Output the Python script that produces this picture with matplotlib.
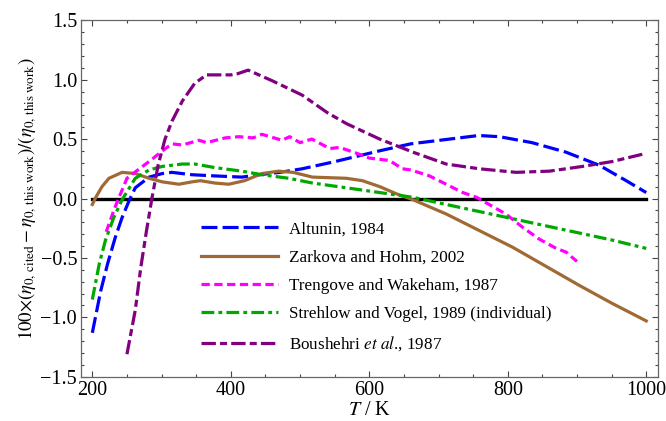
import numpy as np
import matplotlib.pyplot as plt

plt.rcParams['font.family'] = ['Liberation Serif', 'DejaVu Serif']
plt.rcParams['mathtext.fontset'] = 'stix'

# values (T in K, deviation in %)
T_alt = [200, 212, 222, 233, 243, 253, 262, 282, 301, 315, 344, 377, 416, 455, 471,
         503, 550, 614, 660, 716, 758, 788, 835, 884, 932, 971, 1000]
d_alt = [-1.13, -0.78, -0.55, -0.33, -0.16, -0.02, 0.09, 0.18, 0.21, 0.22, 0.20, 0.19,
         0.18, 0.21, 0.22, 0.25, 0.31, 0.40, 0.46, 0.50, 0.53, 0.52, 0.47, 0.39, 0.28,
         0.15, 0.05]

T_zar = [200, 205, 214, 224, 243, 262, 282, 301, 325, 344, 356, 377, 397, 420, 445,
         469, 490, 518, 567, 590, 615, 639, 663, 711, 759, 807, 855, 903, 950, 1000]
d_zar = [-0.05, 0.01, 0.10, 0.17, 0.22, 0.21, 0.17, 0.14, 0.12, 0.14, 0.15, 0.13, 0.12,
         0.15, 0.21, 0.23, 0.22, 0.18, 0.17, 0.15, 0.10, 0.04, -0.01, -0.13, -0.27,
         -0.41, -0.57, -0.73, -0.88, -1.03]

T_tre = [220, 233, 250, 268, 284, 301, 315, 330, 354, 365, 392, 412, 432, 445, 474,
         485, 500, 517, 543, 557, 582, 600, 629, 648, 660, 687, 711, 735, 755, 773,
         797, 821, 845, 870, 884, 900]
d_tre = [-0.28, -0.07, 0.17, 0.25, 0.32, 0.40, 0.46, 0.45, 0.49, 0.47, 0.51, 0.52,
         0.51, 0.54, 0.49, 0.52, 0.47, 0.50, 0.42, 0.43, 0.38, 0.34, 0.32, 0.25, 0.24,
         0.19, 0.12, 0.05, 0.01, -0.05, -0.13, -0.24, -0.34, -0.42, -0.45, -0.53]

T_str = [200, 210, 219, 231, 243, 262, 282, 301, 330, 348, 377, 416, 445, 484, 518,
         567, 615, 663, 711, 759, 807, 855, 903, 951, 1000]
d_str = [-0.85, -0.55, -0.35, -0.16, -0.01, 0.17, 0.24, 0.27, 0.29, 0.29, 0.26, 0.23,
         0.20, 0.17, 0.13, 0.09, 0.05, 0.01, -0.05, -0.11, -0.17, -0.23, -0.29, -0.35,
         -0.42]

T_bou = [250, 262, 270, 278, 286, 295, 305, 315, 330, 348, 365, 400, 410, 425, 460,
         503, 540, 567, 615, 663, 711, 759, 812, 860, 908, 950, 1000]
d_bou = [-1.31, -0.94, -0.58, -0.28, 0.0, 0.28, 0.50, 0.65, 0.82, 0.97, 1.04, 1.04,
         1.05, 1.08, 0.99, 0.87, 0.72, 0.63, 0.50, 0.39, 0.29, 0.25, 0.22, 0.23, 0.27,
         0.31, 0.38]

labels = ['Altunin, 1984',
          'Zarkova and Hohm, 2002',
          'Trengove and Wakeham, 1987',
          'Strehlow and Vogel, 1989 (individual)',
          r'Boushehri $\mathit{et\ al}$., 1987']

fig = plt.figure(figsize=(6.66, 4.21), dpi=100)
ax = fig.add_axes([0.122, 0.105, 0.866, 0.847])

ax.plot([200, 1000], [0, 0], color='black', lw=2.4, zorder=1)

lw = 2.3
ax.plot(T_alt, d_alt, color='#0000ff', lw=lw, dashes=(5.0, 1.6), label=labels[0])
ax.plot(T_zar, d_zar, color='#a06a35', lw=lw, label=labels[1])
ax.plot(T_tre, d_tre, color='#ff00ff', lw=lw, dashes=(2.6, 1.4), label=labels[2])
ax.plot(T_str, d_str, color='#00a800', lw=lw, dashes=(4.0, 1.3, 1.2, 1.3), label=labels[3])
ax.plot(T_bou, d_bou, color='#800080', lw=lw, dashes=(4.5, 1.3, 2.2, 1.3), label=labels[4])

ax.set_xlim(184, 1017)
ax.set_ylim(-1.5, 1.5)
ax.set_xticks([200, 400, 600, 800, 1000])
ax.set_xticks(np.arange(200, 1001, 50), minor=True)
ax.set_yticks([-1.5, -1.0, -0.5, 0.0, 0.5, 1.0, 1.5])
ax.set_yticks(np.arange(-1.5, 1.51, 0.1), minor=True)
ax.yaxis.set_major_formatter(plt.FuncFormatter(lambda v, p: ('%.1f' % v).replace('-', '\u2212')))
ax.tick_params(which='both', direction='in', top=True, right=True, labelsize=14.5,
               color='#444444', width=0.8, pad=3)
ax.tick_params(which='major', length=4.5)
ax.tick_params(which='minor', length=2.5)
for s in ax.spines.values():
    s.set_color('#666666')
    s.set_linewidth(0.9)

ax.set_xlabel(r'$T$ / K', fontsize=14.5, labelpad=1)
ax.set_ylabel(r'$100{\times}(\eta_{0,\,\mathrm{cited}}-\eta_{0,\,\mathrm{this\ work}})/(\eta_{0,\,\mathrm{this\ work}})$',
              fontsize=13.5, labelpad=1)

ax.legend(loc='upper left', bbox_to_anchor=(0.196, 0.455), frameon=False, fontsize=12.3,
          handlelength=4.5, handletextpad=0.65, labelspacing=0.72, borderaxespad=0)

fig.savefig('out.png', dpi=100)
